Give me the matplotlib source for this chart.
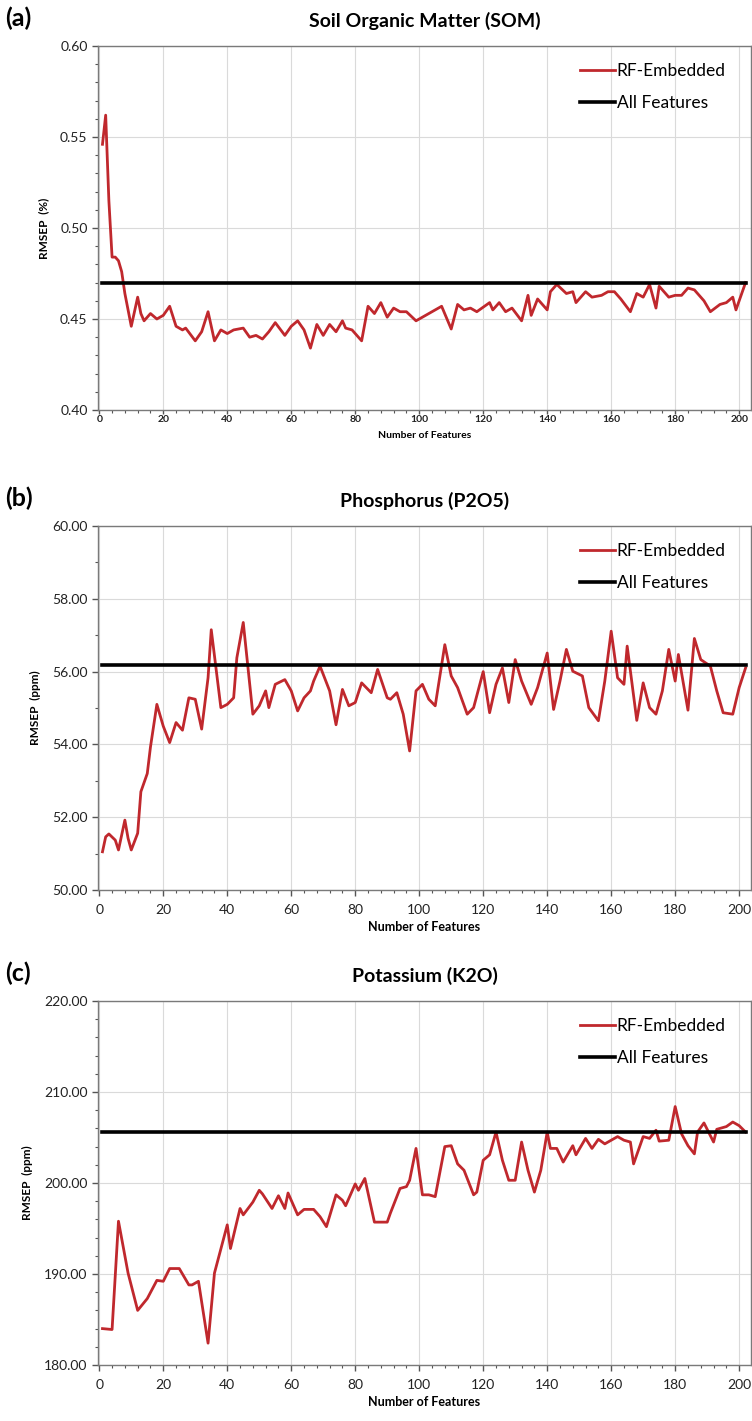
import matplotlib
matplotlib.use("Agg")
import matplotlib.pyplot as plt
from matplotlib.ticker import MultipleLocator, FormatStrFormatter

plt.rcParams['font.family'] = ['Lato', 'DejaVu Sans']

# RMSEP vs number of selected features
som_x = [1, 2, 3, 4, 5, 6, 7, 8, 10, 12, 13, 14, 16, 18, 20, 22, 24, 26, 27, 30,
         32, 34, 36, 38, 40, 42, 45, 47, 49, 51, 53, 55, 58, 60, 62, 64, 66, 68, 70, 72,
         74, 76, 77, 79, 82, 84, 86, 88, 90, 92, 94, 96, 99, 101, 103, 107, 110, 112, 114, 116,
         118, 122, 123, 125, 127, 129, 132, 134, 135, 137, 140, 141, 143, 146, 148, 149, 152, 154, 157, 159,
         161, 163, 166, 168, 170, 172, 174, 175, 178, 180, 182, 184, 186, 189, 191, 194, 196, 198, 199, 202]
som_y = [0.546, 0.562, 0.515, 0.484, 0.484, 0.482, 0.476, 0.464, 0.446, 0.462, 0.453, 0.449, 0.453, 0.450, 0.452, 0.457, 0.446, 0.444, 0.445, 0.438,
         0.443, 0.454, 0.438, 0.444, 0.442, 0.444, 0.445, 0.440, 0.441, 0.439, 0.443, 0.448, 0.441, 0.446, 0.449, 0.444, 0.434, 0.447, 0.441, 0.447,
         0.443, 0.449, 0.445, 0.444, 0.438, 0.457, 0.453, 0.459, 0.451, 0.456, 0.454, 0.454, 0.449, 0.451, 0.453, 0.457, 0.4445, 0.458, 0.455, 0.456,
         0.454, 0.459, 0.455, 0.459, 0.454, 0.456, 0.449, 0.463, 0.452, 0.461, 0.455, 0.465, 0.469, 0.464, 0.465, 0.459, 0.465, 0.462, 0.463, 0.465,
         0.465, 0.461, 0.454, 0.464, 0.462, 0.469, 0.456, 0.468, 0.462, 0.463, 0.463, 0.467, 0.466, 0.460, 0.454, 0.458, 0.459, 0.462, 0.455, 0.470]
som_all = 0.470

p_x = [1, 2, 3, 5, 6, 8, 9, 10, 12, 13, 15, 16, 18, 20, 22, 24, 26, 28, 30, 32,
       34, 35, 38, 40, 42, 43, 45, 48, 50, 52, 53, 55, 58, 60, 62, 64, 66, 67, 69, 72,
       74, 76, 78, 80, 82, 85, 87, 90, 91, 93, 95, 97, 99, 101, 103, 105, 108, 110, 112, 115,
       117, 120, 122, 124, 126, 128, 130, 132, 135, 137, 140, 142, 144, 146, 148, 151, 153, 156, 158, 160,
       162, 164, 165, 168, 170, 172, 174, 176, 178, 180, 181, 184, 186, 188, 191, 193, 195, 198, 200, 202]
p_y = [51.05, 51.46, 51.54, 51.37, 51.10, 51.92, 51.42, 51.10, 51.56, 52.70, 53.20, 53.93, 55.10, 54.50, 54.05, 54.60, 54.39, 55.28, 55.24, 54.42,
       55.83, 57.15, 55.01, 55.10, 55.28, 56.38, 57.35, 54.83, 55.06, 55.47, 55.01, 55.65, 55.78, 55.47, 54.92, 55.28, 55.47, 55.74, 56.15, 55.47,
       54.54, 55.51, 55.06, 55.15, 55.69, 55.42, 56.06, 55.28, 55.24, 55.42, 54.83, 53.82, 55.47, 55.65, 55.24, 55.06, 56.74, 55.88, 55.56, 54.83,
       55.01, 56.00, 54.87, 55.65, 56.10, 55.15, 56.33, 55.74, 55.10, 55.56, 56.51, 54.96, 55.74, 56.61, 56.01, 55.88, 55.01, 54.65, 55.74, 57.11,
       55.83, 55.65, 56.70, 54.66, 55.69, 55.01, 54.83, 55.47, 56.61, 55.74, 56.47, 54.94, 56.91, 56.33, 56.15, 55.47, 54.87, 54.83, 55.56, 56.10]
p_all = 56.17

k_x = [1, 4, 6, 9, 12, 15, 18, 20, 22, 25, 28, 29, 31, 34, 36, 40, 41, 44, 45, 48,
       50, 51, 54, 56, 58, 59, 62, 64, 67, 69, 71, 74, 76, 77, 80, 81, 83, 86, 90, 91,
       94, 96, 97, 99, 101, 103, 105, 108, 110, 112, 114, 117, 118, 120, 122, 124, 126, 128, 130, 132,
       134, 136, 138, 140, 141, 143, 145, 148, 149, 152, 154, 156, 158, 160, 162, 164, 166, 167, 170, 172,
       174, 175, 178, 180, 182, 184, 186, 187, 189, 192, 193, 196, 198, 200, 202]
k_y = [184.0, 183.9, 195.8, 190.1, 186.0, 187.3, 189.3, 189.2, 190.6, 190.6, 188.8, 188.8, 189.2, 182.4, 190.1, 195.4, 192.8, 197.2, 196.5, 197.9,
       199.2, 198.8, 197.2, 198.6, 197.2, 198.9, 196.5, 197.1, 197.1, 196.3, 195.2, 198.7, 198.1, 197.5, 199.9, 199.2, 200.5, 195.7, 195.7, 196.7,
       199.4, 199.6, 200.3, 203.8, 198.7, 198.7, 198.5, 204.0, 204.1, 202.1, 201.4, 198.7, 199.0, 202.5, 203.1, 205.6, 202.5, 200.3, 200.3, 204.5,
       201.4, 199.0, 201.4, 205.6, 203.8, 203.8, 202.3, 204.1, 203.1, 204.9, 203.8, 204.8, 204.3, 204.7, 205.1, 204.7, 204.5, 202.1, 205.1, 204.9,
       205.8, 204.6, 204.7, 208.4, 205.4, 204.1, 203.2, 205.6, 206.6, 204.5, 205.9, 206.2, 206.7, 206.3, 205.6]
k_all = 205.6

titles = ["Soil Organic Matter (SOM)", "Phosphorus (P2O5)", "Potassium (K2O)"]
letters = ["(a)", "(b)", "(c)"]
ylabels = ["RMSEP  (%)", "RMSEP  (ppm)", "RMSEP  (ppm)"]

red = '#c0282d'
W, H = 752, 1421
fig = plt.figure(figsize=(W / 100, H / 100), dpi=100)

panels = [
    (som_x, som_y, som_all, (0.40, 0.60), 0.05, 0.01, '%.2f', 46, 410),
    (p_x, p_y, p_all, (50, 60), 2, 1, '%.2f', 526, 890),
    (k_x, k_y, k_all, (180, 220), 10, 2, '%.2f', 1001, 1365),
]

for i, (x, y, allv, ylim, major, minor, fmt, top, bot) in enumerate(panels):
    ax = fig.add_axes([98 / W, 1 - bot / H, (751 - 98) / W, (bot - top) / H])
    ax.plot(x, y, color=red, lw=2.0, label='RF-Embedded', zorder=3)
    ax.plot([x[0], x[-1]], [allv, allv], color='black', lw=2.6, label='All Features', zorder=4)

    ax.set_xlim(-0.4, 203.7)
    ax.set_ylim(*ylim)
    ax.xaxis.set_major_locator(MultipleLocator(20))
    ax.xaxis.set_minor_locator(MultipleLocator(4))
    ax.yaxis.set_major_locator(MultipleLocator(major))
    ax.yaxis.set_minor_locator(MultipleLocator(minor))
    ax.yaxis.set_major_formatter(FormatStrFormatter(fmt))
    ax.grid(True, which='major', color='#dadada', lw=0.8)
    ax.set_axisbelow(True)
    for s in ax.spines.values():
        s.set_color('#7a7a7a')
        s.set_linewidth(1.0)
    ax.tick_params(which='major', direction='out', length=4, width=1, color='#555555',
                   labelsize=10, labelcolor='#222222')
    ax.tick_params(which='minor', direction='out', length=2.5, width=0.8, color='#555555')
    if i == 0:
        ax.tick_params(axis='x', which='major', labelsize=7.5, pad=0.5, length=3)
        for lab in ax.get_xticklabels():
            lab.set_fontweight('bold')
        ax.set_xlabel('Number of Features', fontsize=7.5, fontweight='bold', labelpad=5)
    else:
        ax.tick_params(axis='x', which='major', pad=6)
        ax.set_xlabel('Number of Features', fontsize=9, fontweight='bold', labelpad=4)
    ax.set_ylabel(ylabels[i], fontsize=8.5, fontweight='bold', labelpad=8)
    ax.set_title(titles[i], fontsize=14, fontweight='bold', pad=14)
    fig.text(5 / W, 1 - (top - 28) / H, letters[i], fontsize=18, fontweight='bold', va='center')

    ax.legend(loc='upper right', bbox_to_anchor=(0.985, 0.995), frameon=False,
              fontsize=12.5, handlelength=2.0, handletextpad=0.1, labelspacing=0.9)

fig.savefig('out.png', dpi=100)
